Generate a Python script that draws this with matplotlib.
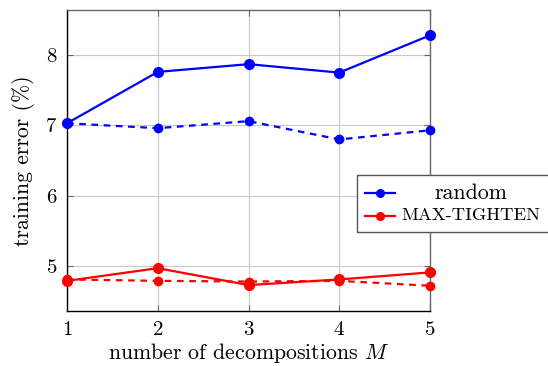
"""
Training error vs number of decompositions
"""

import matplotlib
matplotlib.use('Agg')
import matplotlib.pyplot as plt
from matplotlib.lines import Line2D
from matplotlib.patches import Rectangle

plt.rcParams['font.family'] = 'cmr10'
plt.rcParams['mathtext.fontset'] = 'cm'
plt.rcParams['axes.formatter.use_mathtext'] = True

# data
decomps = [1, 2, 3, 4, 5]
random_solid = [7.03, 7.76, 7.87, 7.75, 8.28]
random_dashed = [7.03, 6.96, 7.06, 6.80, 6.93]
tighten_solid = [4.79, 4.97, 4.73, 4.81, 4.91]
tighten_dashed = [4.81, 4.79, 4.78, 4.79, 4.72]
legend_labels = ['random', 'MAX-TIGHTEN']
legend_colors = ['blue', 'red']

fig = plt.figure(figsize=(5.48, 3.66), dpi=100)
ax = fig.add_axes([0.1223, 0.150, 0.6624, 0.8227])

ax.plot(decomps, random_solid, color='blue', linestyle='solid', linewidth=1.6,
        marker='o', markersize=7, clip_on=False, zorder=3)
ax.plot(decomps, random_dashed, color='blue', linestyle=(0, (3, 2.5)), linewidth=1.6,
        marker='o', markersize=6, clip_on=False, zorder=3)
ax.plot(decomps, tighten_solid, color='red', linestyle='solid', linewidth=1.6,
        marker='o', markersize=7, clip_on=False, zorder=3)
ax.plot(decomps, tighten_dashed, color='red', linestyle=(0, (3, 2.5)), linewidth=1.6,
        marker='o', markersize=6, clip_on=False, zorder=3)

ax.set_xlim(1, 5)
ax.set_ylim(4.36, 8.64)
ax.set_xticks(decomps)
ax.set_yticks([5, 6, 7, 8])
ax.grid(True, color='#c8c8c8', linewidth=0.8)
ax.set_axisbelow(True)

ax.tick_params(direction='in', length=4, top=True, right=True, labelsize=15,
               color='#666666', pad=7)
for side in ['top', 'right']:
    ax.spines[side].set_color('#666666')
for side in ['left', 'bottom']:
    ax.spines[side].set_color('black')
for s in ax.spines.values():
    s.set_linewidth(1.0)

ax.set_xlabel('number of decompositions $M$', fontsize=15.7, labelpad=1.5)
ax.set_ylabel('training error (%)', fontsize=15.7, labelpad=7)

# legend box, drawn by hand so the labels can be centred like pgfplots does
fig.patches.append(Rectangle((0.6515, 0.366), 0.35, 0.156, transform=fig.transFigure,
                             facecolor='white', edgecolor='#555555', linewidth=1.0,
                             zorder=5))
rows_y = [0.4735, 0.410]
base_y = [0.4555, 0.399]
sizes = [15.8, 13.3]
for lab, col, ry, by, fs in zip(legend_labels, legend_colors, rows_y, base_y, sizes):
    fig.lines.append(Line2D([0.666, 0.721], [ry, ry], transform=fig.transFigure,
                            color=col, linewidth=1.6, zorder=6))
    fig.lines.append(Line2D([0.6935], [ry], transform=fig.transFigure, color=col,
                            marker='o', markersize=5.5, zorder=6))
    fig.text(0.8586, by, lab, ha='center', va='baseline', fontsize=fs, zorder=6)

fig.savefig('out.png', dpi=100)
plt.close()
